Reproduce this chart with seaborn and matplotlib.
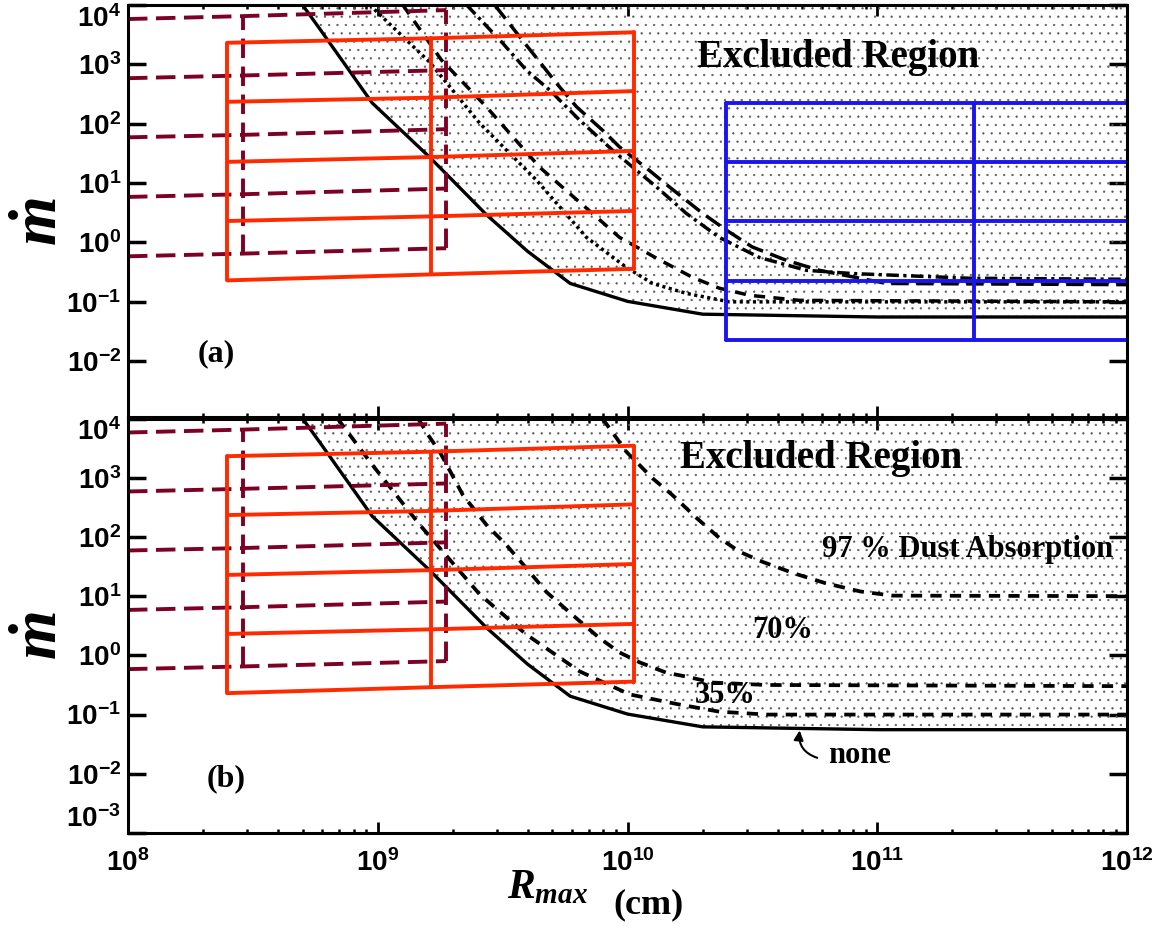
import matplotlib
matplotlib.use('Agg')
import matplotlib.pyplot as plt
import seaborn as sns
from matplotlib.ticker import FixedLocator, LogLocator, NullLocator

# --- values (R_max in cm, mdot) ---
# no absorption (solid), same in both panels
solid_r = [5.0e8, 5.9e8, 9.5e8, 1.62e9, 2.72e9, 3.98e9, 5.9e9, 1.0e10, 2.0e10, 1.0e11, 1.0e12]
solid_m = [1.0e4, 3800, 224, 26.9, 2.95, 0.71, 0.204, 0.102, 0.062, 0.0556, 0.0556]

# panel (a)
dotted_r = [9.29e8, 1.61e9, 2.56e9, 4.32e9, 6.85e9, 9.9e9, 1.26e10, 1.72e10, 2.56e10, 1.0e12]
dotted_m = [1.0e4, 1100, 102, 11.2, 1.22, 0.38, 0.204, 0.139, 0.1, 0.1]
shortdash_r = [1.26e9, 1.8e9, 2.73e9, 4.45e9, 6.85e9, 9.29e9, 1.31e10, 1.82e10, 2.33e10, 3.08e10, 4.88e10, 1.0e12]
shortdash_m = [1.0e4, 1180, 190, 18.5, 3.78, 1.22, 0.54, 0.259, 0.17, 0.129, 0.106, 0.1]
dashdot_r = [2.27e9, 3.16e9, 3.94e9, 4.88e9, 6.43e9, 8.71e9, 1.05e10, 1.31e10, 1.72e10, 2.33e10,
             3.37e10, 5.2e10, 7.94e10, 2.33e11, 1.0e12]
dashdot_m = [1.0e4, 2290, 794, 369, 115, 35.9, 18.5, 8.53, 3.09, 1.22, 0.56, 0.34, 0.30, 0.25, 0.24]
longdash_r = [2.94e9, 3.7e9, 4.45e9, 5.2e9, 6.25e9, 7.94e9, 9.29e9, 1.22e10, 1.47e10, 2.0e10,
              2.49e10, 3.16e10, 4.33e10, 5.86e10, 1.09e11, 1.0e12]
longdash_m = [1.0e4, 2920, 1100, 479, 193, 78, 40.7, 16.5, 8.65, 3.09, 1.61, 0.84, 0.5, 0.34, 0.204, 0.195]

# panel (b): dust absorption
abs35_r = [6.9e8, 9.5e8, 1.47e9, 2.56e9, 3.94e9, 6.43e9, 1.02e10, 1.61e10, 2.33e10, 3.6e10, 1.0e12]
abs35_m = [1.0e4, 1660, 162, 10.7, 2.24, 0.537, 0.219, 0.148, 0.112, 0.1, 0.1]
abs70_r = [1.45e9, 1.61e9, 1.77e9, 2.19e9, 2.73e9, 3.28e9, 3.94e9, 4.74e9, 6.03e9, 7.73e9, 9.29e9,
           1.12e10, 1.43e10, 1.77e10, 2.19e10, 3.6e10, 1.0e12]
abs70_m = [1.0e4, 4900, 2750, 513, 158, 72.4, 29.5, 11.7, 4.79, 1.95, 1.12, 0.76, 0.51, 0.427, 0.347,
           0.316, 0.302]
abs97_r = [7.94e9, 9.89e9, 1.26e10, 1.51e10, 1.89e10, 2.33e10, 2.81e10, 3.47e10, 4.61e10, 6.19e10,
           8.55e10, 1.15e11, 1.0e12]
abs97_m = [1.0e4, 2750, 977, 513, 209, 96.6, 56.2, 38, 24.5, 16.6, 12.0, 10.2, 10]

# red grid (both panels): columns and the five slanted rows
red_r = [2.5e8, 1.64e9, 1.06e10]
red_m = [[2310, 2750, 3470], [234, 275, 355], [22.8, 27.5, 34.9], [2.3, 2.75, 3.4], [0.23, 0.29, 0.36]]
# dark red dashed grid (both panels)
maroon_r = [1.0e8, 2.9e8, 1.88e9]
maroon_m = [[5800, 6500, 8200], [585, 650, 800], [59, 65, 81], [5.85, 6.5, 8.1], [0.585, 0.65, 0.8]]
# blue grid (panel a)
blue_r = [2.47e10, 2.44e11, 1.0e12]
blue_levels = [225, 22.5, 2.27, 0.222, 0.0224]

xticks = [1e8, 1e9, 1e10, 1e11, 1e12]
yticks_a = [1e-2, 1e-1, 1e0, 1e1, 1e2, 1e3, 1e4]
yticks_b = [1e-3, 1e-2, 1e-1, 1e0, 1e1, 1e2, 1e3, 1e4]

RED = '#ff2a00'
MAROON = '#7d0025'
BLUE = '#1a14f0'

sns.set_theme(style='ticks', rc={'axes.edgecolor': 'black', 'xtick.color': 'black',
                                 'ytick.color': 'black', 'text.color': 'black'})
plt.rcParams['font.family'] = ['Liberation Sans', 'DejaVu Sans']
plt.rcParams['font.weight'] = 'bold'
plt.rcParams['mathtext.fontset'] = 'custom'
plt.rcParams['mathtext.it'] = 'Liberation Serif:italic:bold'
plt.rcParams['mathtext.rm'] = 'Liberation Serif:bold'
plt.rcParams['mathtext.bf'] = 'Liberation Serif:bold'
plt.rcParams['hatch.linewidth'] = 0.4
plt.rcParams['axes.linewidth'] = 2.2

SERIF = 'Liberation Serif'


def curve(ax, r, m, ls, lw=2.4, color='black', z=3):
    sns.lineplot(x=r, y=m, ax=ax, color=color, linewidth=lw, linestyle=ls,
                 sort=False, estimator=None, zorder=z)


def slanted_grid(ax, xs, rows, color, ls, lw, vcols):
    for row in rows:
        curve(ax, xs, row, ls, lw=lw, color=color, z=4)
    for j in vcols:
        curve(ax, [xs[j], xs[j]], [rows[-1][j], rows[0][j]], ls, lw=lw, color=color, z=4)


def setup(ax, yticks, ylow):
    ax.set_xscale('log')
    ax.set_yscale('log')
    ax.set_xlim(1e8, 1e12)
    ax.set_ylim(ylow, 1e4)
    ax.xaxis.set_major_locator(FixedLocator(xticks))
    ax.xaxis.set_minor_locator(LogLocator(base=10, subs=range(2, 10), numticks=20))
    ax.set_yticks(yticks)
    ax.yaxis.set_minor_locator(NullLocator())
    ax.tick_params(which='both', direction='in', top=True, right=True)
    ax.tick_params(axis='y', which='major', length=13, width=2.5, pad=5, labelsize=20)
    ax.tick_params(axis='x', which='major', length=8, width=2, pad=12, labelsize=20)
    ax.tick_params(axis='x', which='minor', length=3, width=1.8)
    ax.set_xlabel('')
    ax.set_ylabel('')
    for s in ax.spines.values():
        s.set_linewidth(2.2)
        s.set_zorder(6)


W, H = 1168, 942
fig = plt.figure(figsize=(W / 100, H / 100), dpi=100)
ax1 = fig.add_axes([128 / W, 1 - 417 / H, 999 / W, 412 / H])
ax2 = fig.add_axes([128 / W, 1 - 833 / H, 999 / W, 414.5 / H])
setup(ax1, yticks_a, 1.15e-3)
setup(ax2, yticks_b, 1e-3)
ax1.tick_params(axis='x', labelbottom=False)

for ax in (ax1, ax2):
    ax.fill_between(solid_r, solid_m, 2e4, facecolor='none', edgecolor='0.35',
                    hatch='..', linewidth=0, zorder=1)
    curve(ax, solid_r, solid_m, '-', lw=2.4)
    slanted_grid(ax, maroon_r, maroon_m, MAROON, (0, (5, 2.2)), 2.8, [1, 2])
    slanted_grid(ax, red_r, red_m, RED, '-', 2.8, [0, 1, 2])

# panel (a)
curve(ax1, dotted_r, dotted_m, (0, (0.9, 1.0)), lw=2.5)
curve(ax1, shortdash_r, shortdash_m, (0, (3.2, 2.4)), lw=2.5)
curve(ax1, dashdot_r, dashdot_m, (0, (3.6, 1.3, 0.9, 1.3)), lw=2.5)
curve(ax1, longdash_r, longdash_m, (0, (5.0, 2.2)), lw=2.5)
blue_rows = [[lv] * len(blue_r) for lv in blue_levels]
slanted_grid(ax1, blue_r, blue_rows, BLUE, '-', 2.8, [0, 1])

# panel (b)
for r, m in [(abs35_r, abs35_m), (abs70_r, abs70_m), (abs97_r, abs97_m)]:
    curve(ax2, r, m, (0, (3.0, 2.2)), lw=2.7)

ax1.text(6.99e10, 1303, 'Excluded Region', family=SERIF, fontsize=28, fontweight='bold',
         ha='center', va='center', zorder=7)
ax2.text(5.97e10, 2075, 'Excluded Region', family=SERIF, fontsize=28, fontweight='bold',
         ha='center', va='center', zorder=7)
ax1.text(2.25e8, 0.0135, '(a)', family=SERIF, fontsize=23, fontweight='bold', ha='center', va='center')
ax2.text(2.47e8, 0.0083, '(b)', family=SERIF, fontsize=23, fontweight='bold', ha='center', va='center')
ax2.text(2.31e11, 60.5, '97 % Dust Absorption', family=SERIF, fontsize=22, fontweight='bold',
         ha='center', va='center', zorder=7)
ax2.text(4.19e10, 2.6, '70%', family=SERIF, fontsize=22, fontweight='bold', ha='center', va='center', zorder=7)
ax2.text(2.47e10, 0.209, '35%', family=SERIF, fontsize=22, fontweight='bold', ha='center', va='center', zorder=7)
ax2.text(8.47e10, 0.0204, 'none', family=SERIF, fontsize=22, fontweight='bold', ha='center', va='center')
ax2.annotate('', xy=(4.89e10, 0.054), xytext=(5.75e10, 0.0186),
             arrowprops=dict(arrowstyle='-|>', color='black', lw=1.5, mutation_scale=14,
                             connectionstyle='arc3,rad=-0.4', shrinkA=0, shrinkB=0))

# edge tick labels sit inside the frame, as in the original
ax1.yaxis.get_major_ticks()[-1].label1.set_verticalalignment('top')
ax2.yaxis.get_major_ticks()[-1].label1.set_verticalalignment('top')
ax2.yaxis.get_major_ticks()[0].label1.set_verticalalignment('bottom')

for yc in (222, 636):
    fig.text(40 / W, 1 - yc / H, r'$\dot{m}$', rotation=90, fontsize=46, ha='center', va='center')
fig.text(507 / W, 1 - 898 / H, r'$R_{max}$', fontsize=30, ha='left', va='baseline')
fig.text(613 / W, 1 - 913 / H, '(cm)', family=SERIF, fontsize=26, fontweight='bold',
         ha='left', va='baseline')

fig.savefig('out.png', dpi=100)
